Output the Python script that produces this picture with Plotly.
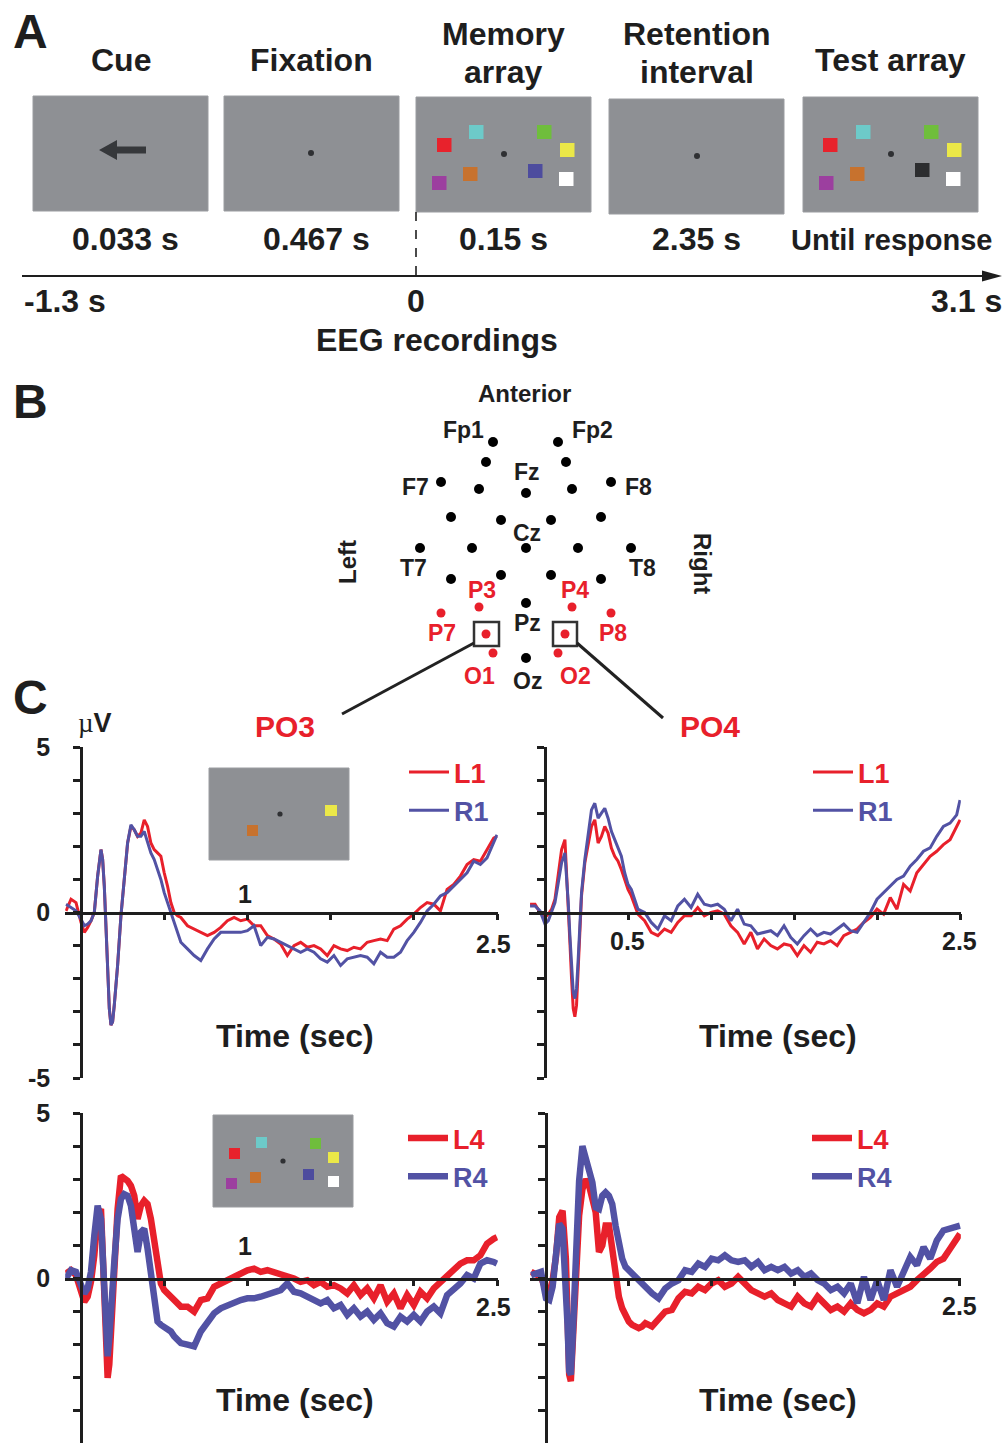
import plotly.graph_objects as go

W, H = 1003, 1443
FONT = "Liberation Sans, Arial, sans-serif"
INK = "#1e1e1e"
RED = "#e8202b"
BLUE = "#5252a4"
GRAY = "#8e9094"

# ---------------------------------------------------------------- ERP data
# sample times (s) relative to memory-array onset
T = [-0.09, -0.06, -0.03, 0.00, 0.02, 0.04, 0.06, 0.08, 0.10, 0.12,
     0.13, 0.14, 0.15, 0.16, 0.17, 0.18, 0.19,
     0.20, 0.22, 0.24, 0.26, 0.28, 0.30, 0.32, 0.34, 0.36, 0.38, 0.40,
     0.42, 0.44, 0.46, 0.48, 0.50, 0.52, 0.54, 0.56, 0.58, 0.60,
     0.64, 0.68, 0.72, 0.76, 0.80, 0.84, 0.88, 0.92, 0.96, 1.00,
     1.04, 1.08, 1.12, 1.16, 1.20, 1.24, 1.28, 1.32, 1.36, 1.40,
     1.44, 1.48, 1.52, 1.56, 1.60, 1.64, 1.68, 1.72, 1.76, 1.80,
     1.84, 1.88, 1.92, 1.96, 2.00, 2.04, 2.08, 2.12, 2.16, 2.20,
     2.24, 2.28, 2.32, 2.36, 2.40, 2.44, 2.48, 2.50]

# PO3, set size 1 (µV)
PO3_L1 = [0.05, 0.40, 0.30, -0.30, -0.60, -0.45, -0.25, 0.00, 1.10, 1.90,
          1.60, 0.80, -0.40, -1.70, -2.90, -3.40, -3.30,
          -2.80, -1.60, -0.10, 1.10, 2.10, 2.60, 2.50, 2.30, 2.40, 2.80, 2.60,
          2.10, 1.90, 1.80, 1.70, 1.20, 0.80, 0.30, 0.00, -0.10, -0.15,
          -0.40, -0.50, -0.60, -0.70, -0.60, -0.45, -0.25, -0.15, -0.25, -0.20,
          -0.40, -0.40, -0.70, -0.80, -0.95, -1.30, -1.00, -0.90, -1.05, -1.00,
          -1.10, -1.30, -1.00, -1.10, -1.15, -1.05, -1.10, -0.90, -0.85, -0.80,
          -0.85, -0.50, -0.40, -0.20, -0.05, 0.15, 0.30, 0.25, 0.05, 0.70,
          0.85, 1.10, 1.45, 1.60, 1.55, 1.90, 2.25, 2.30]
PO3_R1 = [0.25, 0.15, 0.05, -0.20, -0.40, -0.35, -0.25, 0.00, 1.10, 1.90,
          1.60, 0.80, -0.40, -1.70, -2.90, -3.40, -3.30,
          -2.80, -1.60, -0.10, 1.10, 2.10, 2.65, 2.50, 2.30, 2.30, 2.45, 2.10,
          1.80, 1.60, 1.30, 1.00, 0.60, 0.30, 0.00, -0.30, -0.60, -0.90,
          -1.10, -1.30, -1.45, -1.10, -0.80, -0.60, -0.60, -0.60, -0.60, -0.55,
          -0.40, -1.00, -0.75, -0.80, -0.90, -1.00, -1.10, -1.20, -1.10, -1.20,
          -1.40, -1.50, -1.30, -1.60, -1.40, -1.35, -1.30, -1.35, -1.55, -1.20,
          -1.35, -1.35, -1.20, -0.85, -0.60, -0.30, 0.05, 0.25, 0.50, 0.60,
          0.80, 1.00, 1.20, 1.55, 1.45, 1.65, 2.10, 2.35]

# PO4, set size 1 (µV)
PO4_L1 = [0.25, 0.25, 0.00, -0.15, -0.05, 0.10, 0.40, 1.10, 1.90, 2.20,
          1.30, 0.20, -0.90, -2.00, -2.90, -3.15, -2.80,
          -1.70, 0.50, 1.50, 2.00, 2.60, 2.80, 2.10, 2.30, 2.60, 2.40, 1.95,
          1.70, 1.55, 1.30, 1.00, 0.70, 0.50, 0.20, -0.05, -0.15, -0.25,
          -0.60, -0.70, -0.50, -0.60, -0.30, -0.10, -0.10, 0.15, -0.10, 0.00,
          0.05, -0.05, -0.40, -0.60, -0.95, -0.60, -1.10, -0.80, -1.00, -1.10,
          -0.95, -1.00, -1.30, -1.00, -1.20, -0.90, -0.95, -0.85, -1.00, -0.70,
          -0.60, -0.50, -0.30, -0.15, 0.10, -0.05, 0.45, 0.10, 0.85, 0.65,
          1.20, 1.45, 1.70, 1.85, 2.05, 2.20, 2.60, 2.80]
PO4_R1 = [0.20, 0.20, 0.05, -0.35, -0.25, 0.00, 0.30, 0.90, 1.50, 1.80,
          1.10, 0.30, -0.70, -1.70, -2.40, -2.60, -2.30,
          -1.40, 0.60, 1.60, 2.40, 3.10, 3.30, 2.85, 3.00, 3.15, 2.85, 2.45,
          2.20, 1.95, 1.70, 1.20, 0.85, 0.70, 0.40, 0.10, 0.05, 0.00,
          -0.30, -0.50, -0.10, -0.25, 0.20, 0.40, 0.15, 0.55, 0.25, 0.20,
          0.25, 0.10, -0.25, 0.10, -0.35, -0.40, -0.65, -0.60, -0.55, -0.70,
          -0.40, -0.75, -0.95, -0.70, -0.50, -0.70, -0.60, -0.65, -0.50, -0.35,
          -0.55, -0.60, -0.30, 0.00, 0.40, 0.60, 0.80, 1.00, 1.10, 1.40,
          1.60, 1.85, 1.95, 2.30, 2.60, 2.70, 2.95, 3.40]

# PO3, set size 4 (µV)
PO3_L4 = [0.15, 0.25, 0.10, -0.50, -0.70, -0.55, -0.10, 0.70, 1.90, 2.10,
          1.00, -0.60, -2.00, -3.00, -2.60, -1.60, -0.70,
          0.20, 2.10, 3.10, 3.05, 2.95, 2.80, 2.50, 1.80, 2.20, 2.35, 2.25,
          1.80, 1.10, 0.25, -0.15, -0.35, -0.45, -0.50, -0.60, -0.75, -0.85,
          -0.85, -1.00, -0.65, -0.60, -0.25, -0.15, 0.00, 0.10, 0.15, 0.25,
          0.30, 0.20, 0.25, 0.20, 0.15, 0.10, 0.00, -0.10, -0.05, -0.20,
          -0.10, -0.25, -0.20, -0.30, -0.45, -0.20, -0.50, -0.30, -0.60, -0.20,
          -0.70, -0.45, -0.90, -0.50, -0.80, -0.40, -0.60, -0.30, -0.10, 0.10,
          0.30, 0.45, 0.55, 0.55, 0.70, 1.05, 1.20, 1.25]
PO3_R4 = [0.00, 0.25, 0.20, -0.25, -0.45, -0.30, 0.20, 1.30, 2.20, 1.80,
          0.60, -0.80, -2.00, -2.35, -1.80, -0.90, -0.20,
          0.50, 1.80, 2.40, 2.55, 2.50, 2.20, 1.60, 0.80, 1.40, 1.50, 0.90,
          0.10, -0.85, -1.30, -1.40, -1.45, -1.55, -1.60, -1.75, -1.85, -1.95,
          -2.00, -2.05, -1.60, -1.30, -1.05, -0.90, -0.80, -0.70, -0.65, -0.60,
          -0.60, -0.55, -0.50, -0.45, -0.35, -0.15, -0.40, -0.45, -0.55, -0.60,
          -0.75, -0.65, -0.90, -0.80, -1.10, -0.90, -1.15, -1.00, -1.25, -1.05,
          -1.35, -1.45, -1.15, -1.30, -1.10, -1.30, -1.00, -0.85, -1.05, -0.50,
          -0.35, -0.15, 0.10, 0.00, 0.45, 0.55, 0.50, 0.45]

# PO4, set size 4 (µV)
PO4_L4 = [0.20, 0.10, 0.05, -0.35, -0.45, -0.05, 0.65, 1.85, 2.05, 0.60,
          -1.50, -2.90, -3.10, -2.20, -0.80, 0.40, 1.20,
          1.90, 2.70, 3.00, 2.80, 2.40, 2.00, 0.80, 1.00, 1.60, 1.60, 0.90,
          0.20, -0.55, -0.90, -1.15, -1.30, -1.40, -1.45, -1.50, -1.45, -1.35,
          -1.45, -1.20, -1.00, -0.95, -0.60, -0.40, -0.45, -0.25, -0.35, -0.15,
          -0.05, -0.25, -0.15, 0.05, -0.15, -0.35, -0.45, -0.55, -0.45, -0.65,
          -0.75, -0.85, -0.55, -0.75, -0.85, -0.55, -0.75, -0.95, -0.85, -1.00,
          -0.75, -0.95, -1.05, -0.95, -0.75, -0.85, -0.55, -0.45, -0.35, -0.25,
          -0.05, 0.10, 0.30, 0.50, 0.60, 0.90, 1.20, 1.35]
PO4_R4 = [0.10, 0.15, 0.20, -0.60, -0.65, -0.25, 0.55, 1.65, 1.50, -0.20,
          -1.40, -2.80, -2.90, -1.90, -0.50, 0.50, 1.80,
          2.95, 4.00, 3.60, 3.20, 2.90, 2.15, 2.10, 2.50, 2.60, 2.50, 2.25,
          1.60, 1.05, 0.60, 0.35, 0.25, 0.15, 0.00, -0.10, -0.20, -0.25,
          -0.45, -0.60, -0.30, -0.15, -0.05, 0.25, 0.20, 0.45, 0.35, 0.60,
          0.55, 0.70, 0.55, 0.50, 0.55, 0.35, 0.50, 0.25, 0.35, 0.25,
          0.35, 0.15, 0.25, 0.05, 0.15, -0.05, -0.15, -0.35, -0.25, -0.45,
          -0.15, -0.75, 0.05, -0.65, -0.05, -0.65, 0.25, -0.25, 0.25, 0.65,
          0.40, 0.95, 0.60, 1.15, 1.45, 1.50, 1.55, 1.60]

# --------------------------------------------------- electrode montage (B)
ELEC_NAMES = ["Fp1", "Fp2", "AF3", "AF4", "Fz", "F7", "F8", "F3", "F4",
              "FC5", "FC6", "FC1", "FC2", "T7", "C3", "Cz", "C4", "T8",
              "CP5", "CP1", "CP2", "CP6", "Pz", "Oz",
              "P3", "P4", "P7", "P8", "PO3", "PO4", "O1", "O2"]
ELEC_X = [493, 558, 486, 566, 526, 441, 611, 479, 572,
          451, 601, 501, 551, 420, 472, 526, 578, 631,
          451, 501, 551, 601, 526, 526,
          479, 572, 441, 611, 486, 565, 493, 558]
ELEC_Y = [442, 442, 462, 462, 493, 482, 482, 489, 489,
          517, 517, 520, 520, 548, 548, 548, 548, 548,
          579, 575, 575, 579, 603, 658,
          607, 607, 613, 613, 634, 634, 653, 653]
ELEC_ROI = [False] * 24 + [True] * 8

LABELS_B = [("Fp1", 463, 430, INK), ("Fp2", 592, 430, INK), ("Fz", 527, 472, INK),
            ("F7", 415, 487, INK), ("F8", 638, 487, INK), ("Cz", 527, 533, INK),
            ("T7", 413, 568, INK), ("T8", 642, 568, INK), ("P3", 482, 590, RED),
            ("P4", 575, 590, RED), ("Pz", 527, 623, INK), ("P7", 442, 633, RED),
            ("P8", 613, 633, RED), ("O1", 479, 676, RED), ("Oz", 527, 681, INK),
            ("O2", 575, 676, RED)]

# ------------------------------------------------------------- layout math
def pxx(x):
    return x / W


def pxy(y):
    return 1 - y / H


# t=0 pixel, px per s, 0 µV pixel, px per µV
PANELS = {
    "TL": dict(x0=81, sx=166.4, y0=912.5, sy=33.1),
    "TR": dict(x0=545, sx=166.0, y0=912.5, sy=33.1),
    "BL": dict(x0=81, sx=166.4, y0=1278.5, sy=33.1),
    "BR": dict(x0=546, sx=165.6, y0=1278.5, sy=33.1),
}
ORDER = ["TL", "TR", "BL", "BR"]
SERIES = {
    "TL": (PO3_L1, PO3_R1, "L1", "R1", 3.0),
    "TR": (PO4_L1, PO4_R1, "L1", "R1", 3.0),
    "BL": (PO3_L4, PO3_R4, "L4", "R4", 6.5),
    "BR": (PO4_L4, PO4_R4, "L4", "R4", 6.5),
}
LEGEND_POS = {"TL": (404, 748), "TR": (808, 748), "BL": (403, 1114), "BR": (807, 1114)}

fig = go.Figure()
layout = dict(
    width=W, height=H, margin=dict(l=0, r=0, t=0, b=0, pad=0, autoexpand=False),
    paper_bgcolor="white", plot_bgcolor="rgba(0,0,0,0)",
    font=dict(family=FONT, color=INK), showlegend=True,
)

for i, key in enumerate(ORDER):
    g = PANELS[key]
    n = "" if i == 0 else str(i + 1)
    xr = [-0.095, 2.505]
    ylo = max(-5.0, -(H - g["y0"]) / g["sy"])
    yr = [ylo, 5.0]
    left = key in ("TL", "BL")
    layout["xaxis" + n] = dict(
        domain=[pxx(g["x0"] + xr[0] * g["sx"]), pxx(g["x0"] + xr[1] * g["sx"])],
        range=xr, anchor="free", position=pxy(g["y0"]), automargin=False,
        showline=True, linecolor=INK, linewidth=2.5,
        ticks="outside", ticklen=6, tickwidth=2.5, tickcolor=INK,
        tickvals=[0.5, 1.0, 1.5, 2.0, 2.5], showticklabels=False,
        showgrid=False, zeroline=False, fixedrange=True,
    )
    layout["yaxis" + n] = dict(
        domain=[pxy(g["y0"] - yr[0] * g["sy"]), pxy(g["y0"] - yr[1] * g["sy"])],
        range=yr, anchor="free", position=pxx(g["x0"]), automargin=False,
        showline=True, linecolor=INK, linewidth=2.5,
        ticks="outside", ticklen=7, tickwidth=2.5, tickcolor=INK,
        tickmode="array", tickvals=list(range(-5, 6)),
        ticktext=[("-5" if v == -5 else "0" if v == 0 else "5" if v == 5 else "")
                  for v in range(-5, 6)],
        showticklabels=left, ticklabelstandoff=18,
        tickfont=dict(family=FONT, size=25, color=INK, weight="bold"),
        showgrid=False, zeroline=False, fixedrange=True,
    )
    lg = "legend" + n
    lx, ly = LEGEND_POS[key]
    layout[lg] = dict(
        x=pxx(lx), y=pxy(ly), xanchor="left", yanchor="top",
        bgcolor="rgba(0,0,0,0)", borderwidth=0, tracegroupgap=0,
        font=dict(family=FONT, size=27, weight="bold"), itemwidth=40,
    )
    red_v, blue_v, rn, bn, lw = SERIES[key]
    for vals, name, col in ((red_v, rn, RED), (blue_v, bn, BLUE)):
        fig.add_trace(go.Scatter(
            x=T, y=vals, mode="lines", xaxis="x" + n, yaxis="y" + n,
            line=dict(color=col, width=lw), legend=lg,
            name=f'<span style="color:{col}">{name}</span>',
            hoverinfo="skip",
        ))

# full-page pixel frame for the schematic parts
layout["xaxis5"] = dict(domain=[0, 1], range=[0, W], visible=False, fixedrange=True,
                        automargin=False)
layout["yaxis5"] = dict(domain=[0, 1], range=[H, 0], visible=False, fixedrange=True,
                        automargin=False)

fig.add_trace(go.Scatter(
    x=ELEC_X, y=ELEC_Y, mode="markers", xaxis="x5", yaxis="y5",
    text=ELEC_NAMES, hoverinfo="text", showlegend=False, opacity=1,
    marker=dict(size=[9 if r else 10 for r in ELEC_ROI], opacity=1,
                color=[RED if r else "#000000" for r in ELEC_ROI], line=dict(width=0)),
))

shapes = []
ann = []


def rect(x0, y0, x1, y1, fill, line=None, lw=0):
    shapes.append(dict(type="rect", xref="x5", yref="y5", x0=x0, y0=y0, x1=x1, y1=y1,
                       fillcolor=fill, line=dict(color=line or fill, width=lw),
                       layer="above"))


def seg(x0, y0, x1, y1, col=INK, w=2.0, dash="solid"):
    shapes.append(dict(type="line", xref="x5", yref="y5", x0=x0, y0=y0, x1=x1, y1=y1,
                       line=dict(color=col, width=w, dash=dash), layer="above"))


def dot(x, y, r=3.0, col="#2f3033"):
    shapes.append(dict(type="circle", xref="x5", yref="y5", x0=x - r, y0=y - r,
                       x1=x + r, y1=y + r, fillcolor=col, line=dict(width=0),
                       layer="above"))


def txt(x, y, s, size, col=INK, bold=True, angle=0, xanchor="center"):
    ann.append(dict(xref="x5", yref="y5", x=x, y=y, text=(f"<b>{s}</b>" if bold else s),
                    showarrow=False, xanchor=xanchor, yanchor="middle", textangle=angle,
                    font=dict(family=FONT, size=size, color=col)))


# ------------------------------------------------------------ panel A
txt(30, 31, "A", 48)
for (x0, y0, x1, y1) in [(33, 96, 208, 211), (224, 96, 399, 211), (416, 97, 591, 212),
                         (609, 99, 784, 214), (803, 97, 978, 212)]:
    rect(x0, y0, x1, y1, GRAY, "#9a9ca0", 1)

# cue arrow
shapes.append(dict(type="path", xref="x5", yref="y5", layer="above",
                   path="M 99 150 L 117 140 L 117 146.5 L 146 146.5 L 146 153.5 L 117 153.5 L 117 160 Z",
                   fillcolor="#36383b", line=dict(width=0)))
dot(311, 153)
dot(697, 156)
dot(504, 154)
dot(891, 154)

SQ = {"red": "#e8222c", "cyan": "#6dcac9", "purple": "#9c3f9f", "orange": "#c7722e",
      "green": "#6fbe3c", "yellow": "#ebe848", "blue": "#4d4c9e", "white": "#ffffff",
      "black": "#2c2d2f"}
memory_sq = [("red", 437, 138), ("cyan", 469, 125), ("purple", 432, 176), ("orange", 463, 167),
             ("green", 537, 125), ("yellow", 560, 143), ("blue", 528, 164), ("white", 559, 172)]
test_sq = [("red", 823, 138), ("cyan", 856, 125), ("purple", 819, 176), ("orange", 850, 167),
           ("green", 924, 125), ("yellow", 947, 143), ("black", 915, 163), ("white", 946, 172)]
for c, x, y in memory_sq + test_sq:
    rect(x, y, x + 14.5, y + 14, SQ[c])

txt(121, 60, "Cue", 32)
txt(311, 60, "Fixation", 32)
txt(503, 34, "Memory", 32)
txt(503, 72, "array", 32)
txt(697, 34, "Retention", 32)
txt(697, 72, "interval", 32)
txt(890, 60, "Test array", 32)
txt(125, 239, "0.033 s", 32)
txt(316, 239, "0.467 s", 32)
txt(503, 239, "0.15 s", 32)
txt(696, 239, "2.35 s", 32)
txt(891, 240, "Until response", 29)

seg(22, 276, 986, 276, INK, 2)
shapes.append(dict(type="path", xref="x5", yref="y5", layer="above",
                   path="M 982 270.5 L 1002 276 L 982 281.5 Z", fillcolor=INK, line=dict(width=0)))
seg(416, 212, 416, 278, INK, 1.6, "dash")
txt(65, 301, "-1.3 s", 32)
txt(416, 301, "0", 32)
txt(966, 301, "3.1 s", 32)
txt(437, 340, "EEG recordings", 32)

# ------------------------------------------------------------ panel B
txt(30, 401, "B", 48)
txt(524, 393, "Anterior", 24)
for name, x, y, col in LABELS_B:
    txt(x, y, name, 23, col)
txt(347, 562, "Left", 24, angle=-90)
txt(703, 563, "Right", 24, angle=90)
rect(474, 622, 499, 646, "rgba(0,0,0,0)", "#333333", 2.5)
rect(553, 622, 577, 646, "rgba(0,0,0,0)", "#333333", 2.5)
seg(474, 643, 342, 714, "#222222", 3)
seg(577, 643, 663, 718, "#222222", 3)

# ------------------------------------------------------------ panel C
txt(30, 697, "C", 48)
ann.append(dict(xref="x5", yref="y5", x=95, y=723, showarrow=False, xanchor="center",
                yanchor="middle",
                text='<span style="font-family:Liberation Serif">µ</span><b>V</b>',
                font=dict(family=FONT, size=27, color=INK)))
txt(285, 726, "PO3", 30, RED)
txt(710, 726, "PO4", 30, RED)

txt(245, 894, "1", 25)
txt(493, 944, "2.5", 25)
txt(627, 941, "0.5", 25)
txt(959, 941, "2.5", 25)
txt(245, 1246, "1", 25)
txt(493, 1307, "2.5", 25)
txt(959, 1306, "2.5", 25)
for x, y in [(295, 1036), (778, 1036), (295, 1400), (778, 1400)]:
    txt(x, y, "Time (sec)", 32)

# stimulus insets
rect(209, 768, 349, 860, GRAY, "#9a9ca0", 1)
dot(280, 814, 2.6)
rect(247, 825, 258, 836, SQ["orange"])
rect(325, 805, 337, 816, SQ["yellow"])

rect(213, 1115, 353, 1207, GRAY, "#9a9ca0", 1)
dot(283, 1161, 2.6)
inset4 = [("red", 229, 1148), ("cyan", 256, 1137), ("purple", 226, 1178), ("orange", 250, 1172),
          ("green", 310, 1138), ("yellow", 328, 1152), ("blue", 303, 1169), ("white", 328, 1176)]
for c, x, y in inset4:
    rect(x, y, x + 11, y + 11, SQ[c])

layout["shapes"] = shapes
layout["annotations"] = ann
fig.update_layout(**layout)
fig.write_html("out.html")
